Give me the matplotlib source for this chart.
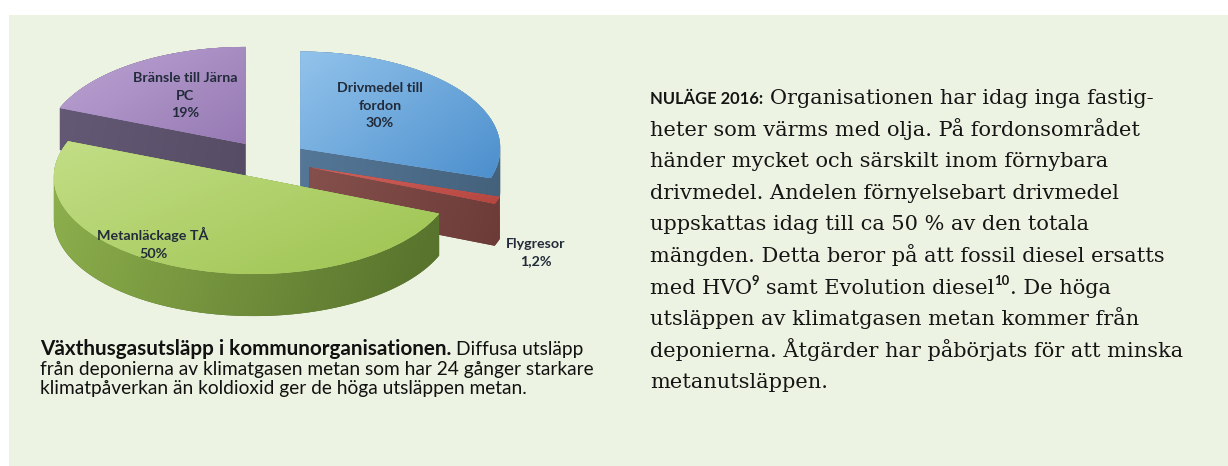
import numpy as np
import matplotlib
matplotlib.use("Agg")
import matplotlib.pyplot as plt
from matplotlib.patches import Rectangle, Polygon
from matplotlib.colors import to_rgb

# ---------------- data ----------------
slice_names = ["Drivmedel till\nfordon", "Flygresor", "Metanläckage TÅ", "Bränsle till Järna\nPC"]
slice_values = [30, 1.2, 50, 19]
slice_pct = ["30%", "1,2%", "50%", "19%"]

caption_bold = "Växthusgasutsläpp i kommunorganisationen."
caption_lines = ["Diffusa utsläpp",
                 "från deponierna av klimatgasen metan som har 24 gånger starkare",
                 "klimatpåverkan än koldioxid ger de höga utsläppen metan."]

body_lead = "NULÄGE 2016:"
body_lines = ["Organisationen har idag inga fastig-",
              "heter som värms med olja. På fordonsområdet",
              "händer mycket och särskilt inom förnybara",
              "drivmedel. Andelen förnyelsebart drivmedel",
              "uppskattas idag till ca 50 % av den totala",
              "mängden. Detta beror på att fossil diesel ersatts",
              "med HVO^9^ samt Evolution diesel^10^. De höga",
              "utsläppen av klimatgasen metan kommer från",
              "deponierna. Åtgärder har påbörjats för att minska",
              "metanutsläppen."]

# ---------------- style ----------------
W, H = 1228, 466
PANEL = "#EDF3E2"
top_light = ["#92C3EB", "#D4625D", "#C3DE86", "#BCA4D4"]
top_dark = ["#4C8FCD", "#B4463F", "#9DC350", "#9679B3"]
side_light = ["#56799A", "#85504C", "#8FB14D", "#655A76"]
side_dark = ["#44617B", "#6C3B38", "#55702B", "#564C65"]
explode = [0.2, 0.22, 0.19, 0.2]
rank = [1, 2, 3, 0]          # drawing order (back to front)

SANS = ["Lato", "DejaVu Sans"]
SERIF = ["DejaVu Serif"]

fig = plt.figure(figsize=(W / 100, H / 100), dpi=100)
fig.patch.set_facecolor("white")

bg = fig.add_axes([0, 0, 1, 1], zorder=0)
bg.set_xlim(0, W); bg.set_ylim(H, 0); bg.axis("off")
bg.add_patch(Rectangle((9, 15), W - 9, H - 15, facecolor=PANEL, edgecolor="none"))

# ---------------- 3D pie ----------------
CX, CY, RX, RY = 268, 160, 200, 97
DEPTH = 42 / RY
px0, px1, py0, py1 = 0, 640, 0, 350
pax = fig.add_axes([px0 / W, 1 - py1 / H, (px1 - px0) / W, (py1 - py0) / H], zorder=1)
xlim = ((px0 - CX) / RX, (px1 - CX) / RX)
ylim = ((CY - py1) / RY, (CY - py0) / RY)


def hull(pts):
    pts = sorted(set(map(tuple, np.round(pts, 7))))
    def cross(o, a, b):
        return (a[0] - o[0]) * (b[1] - o[1]) - (a[1] - o[1]) * (b[0] - o[0])
    lower, upper = [], []
    for p in pts:
        while len(lower) >= 2 and cross(lower[-2], lower[-1], p) <= 0:
            lower.pop()
        lower.append(p)
    for p in reversed(pts):
        while len(upper) >= 2 and cross(upper[-2], upper[-1], p) <= 0:
            upper.pop()
        upper.append(p)
    return np.array(lower[:-1] + upper[:-1])


def wedge_pts(w):
    th = np.radians(np.linspace(w.theta1, w.theta2, 240))
    cx, cy = w.center
    arc = np.column_stack([cx + w.r * np.cos(th), cy + w.r * np.sin(th)])
    return np.vstack([[cx, cy], arc])


def gradient(ax, patch, c0, c1, wx, wy, z):
    bb = patch.get_path().get_extents()
    n = 96
    X, Y = np.meshgrid(np.linspace(0, 1, n), np.linspace(0, 1, n))
    t = wx * X + wy * (1 - Y)
    t = (t - t.min()) / (t.max() - t.min() + 1e-9)
    a, b = np.array(to_rgb(c0)), np.array(to_rgb(c1))
    img = a[None, None, :] * (1 - t[..., None]) + b[None, None, :] * t[..., None]
    im = ax.imshow(img, extent=(bb.x0, bb.x1, bb.y0, bb.y1), origin="lower",
                   aspect="auto", zorder=z, interpolation="bilinear")
    im.set_clip_path(patch)


bottom, _ = pax.pie(slice_values, explode=explode, startangle=90, counterclock=False,
                    center=(0, -DEPTH), radius=1, frame=False)
bottom_pts = [wedge_pts(w) for w in bottom]
for w in bottom:
    w.remove()

tops, _ = pax.pie(slice_values, explode=explode, startangle=90, counterclock=False,
                  colors=top_light, center=(0, 0), radius=1, frame=False,
                  wedgeprops=dict(linewidth=0))
for i, w in enumerate(tops):
    z = rank[i] * 10
    side = Polygon(hull(np.vstack([wedge_pts(w), bottom_pts[i]])), closed=True,
                   facecolor=side_dark[i], edgecolor="none", zorder=z + 1)
    pax.add_patch(side)
    gradient(pax, side, side_light[i], side_dark[i], 1.0, 0.15, z + 2)
    w.set_zorder(z + 3)
    gradient(pax, w, top_light[i], top_dark[i], 1.0, 0.8, z + 4)

pax.set_aspect("auto")
pax.set_xlim(*xlim); pax.set_ylim(*ylim)
pax.axis("off")

# ---------------- text ----------------
tx = fig.add_axes([0, 0, 1, 1], zorder=5)
tx.set_xlim(0, W); tx.set_ylim(H, 0); tx.axis("off")
tx.patch.set_alpha(0)
R = fig.canvas.get_renderer()


def width(s, kw):
    t = tx.text(0, 0, s, **kw)
    w = t.get_window_extent(renderer=R).width
    t.remove()
    return w


def adv(s, kw):
    return width("|" + s + "|", kw) - width("||", kw)


def fit(s, kw, target, s0=10.0):
    k = dict(kw); k["fontsize"] = s0
    return s0 * target / adv(s, k)


def runs(x, y, parts):
    for s, kw, dy in parts:
        stripped = s.lstrip(" ")
        nl = len(s) - len(stripped)
        if nl:
            x += adv(" " * nl, kw)
        tx.text(x, y + dy, stripped, ha="left", va="baseline", **kw)
        x += adv(stripped, kw)
    return x


# pie labels
lab_kw = dict(family=SANS, weight="bold", color="#222B3A")
lab_size = fit("Bränsle till Järna", lab_kw, 105)
label_pos = [(380, 92), (536, 248), (153, 240), (185, 82)]   # first-line baselines (px)
for i, (x, y) in enumerate(label_pos):
    lines = (slice_names[i] + "\n" + slice_pct[i]).split("\n")
    for j, ln in enumerate(lines):
        tx.text(x, y + j * 17.5, ln, ha="center", va="baseline", fontsize=lab_size, **lab_kw)

# caption
cap_reg = dict(family=SANS, color="#111111")
cap_bold = dict(family=SANS, color="#111111", weight="bold")
cap_size = fit(caption_lines[1], cap_reg, 553)
cap_reg["fontsize"] = cap_size
cap_bold["fontsize"] = min(fit(caption_bold, cap_bold, 412), cap_size * 1.12)
cy0, cdy = 355, 19.5
runs(40, cy0, [(caption_bold, cap_bold, 0), (" " + caption_lines[0], cap_reg, 0)])
for j, line in enumerate(caption_lines[1:]):
    runs(40, cy0 + (j + 1) * cdy, [(line, cap_reg, 0)])

# body text
body_kw = dict(family=SERIF, color="#151515")
body_size = fit(body_lines[8], body_kw, 535)
body_kw["fontsize"] = body_size
lead_kw = dict(family=SANS, weight="bold", color="#151515")
lead_kw["fontsize"] = fit(body_lead, lead_kw, 114)
sup_kw = dict(family=SANS, weight="bold", color="#151515", fontsize=body_size * 0.62)
bx, by0, bdy = 650, 104, 31.6
for j, line in enumerate(body_lines):
    y = by0 + j * bdy
    parts = []
    if j == 0:
        parts.append((body_lead, lead_kw, 0))
        parts.append((" " + line, body_kw, 0))
    else:
        segs = line.split("^")
        for k, sg in enumerate(segs):
            if not sg:
                continue
            if k % 2 == 1:
                parts.append((sg, sup_kw, -9))
            else:
                parts.append((sg, body_kw, 0))
    runs(bx, y, parts)

fig.savefig("out.png", dpi=100, facecolor=fig.get_facecolor())
